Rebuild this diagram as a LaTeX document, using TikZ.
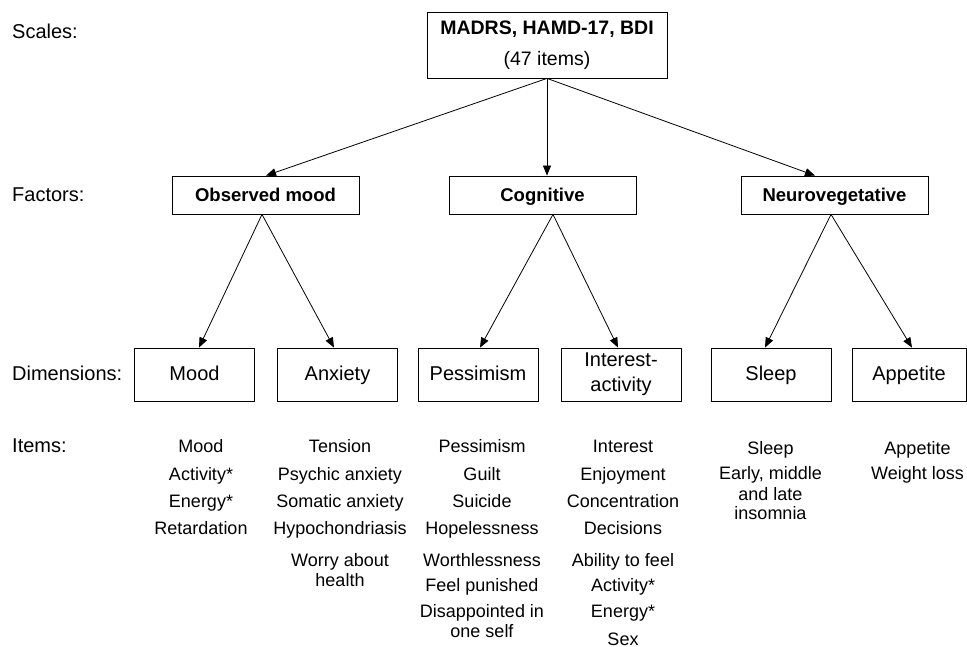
\documentclass[tikz,border=0pt]{standalone}
\usepackage{fontspec}
\setmainfont{Liberation Sans}
\usetikzlibrary{arrows.meta}
\begin{document}
\begin{tikzpicture}[x=1pt,y=-1pt,
  box/.style={draw,line width=0.8pt,inner sep=0pt,align=center},
  fbox/.style={box,minimum width=187pt,minimum height=38pt,text height=18pt,text depth=4pt,font=\fontsize{18.5}{22}\selectfont\bfseries},
  dbox/.style={box,minimum width=120pt,minimum height=53pt,font=\fontsize{20}{25}\selectfont},
  dsingle/.style={dbox,text height=16pt,text depth=4pt},
  lbl/.style={anchor=base west,inner sep=0pt,font=\fontsize{20}{24}\selectfont},
  itm/.style={anchor=base,inner sep=0pt,font=\fontsize{18}{20}\selectfont},
  arr/.style={line width=0.8pt,-{Triangle[length=10pt,width=8pt]}}
]
\useasboundingbox (0,0) rectangle (967,647);

% left labels
\node[lbl] (lscales) at (12,39) {Scales:};
\node[lbl] (lfactors) at (12,202) {Factors:};
\node[lbl] (ldims) at (12,380) {Dimensions:};
\node[lbl] (litems) at (12,452) {Items:};

% top box
\node[box,minimum width=240pt,minimum height=66pt,font=\fontsize{19.5}{31}\selectfont] (top) at (547,45)
  {\textbf{MADRS, HAMD-17, BDI}\\(47 items)};

% factors
\node[fbox] (om) at (265.5,195) {Observed mood};
\node[fbox] (cog) at (542.5,195) {Cognitive};
\node[fbox] (nv) at (834.5,195) {Neurovegetative};

% dimensions
\node[dsingle] (mood) at (194.5,374.5) {Mood};
\node[dsingle] (anx) at (337.5,374.5) {Anxiety};
\node[dsingle] (pes) at (478,374.5) {Pessimism};
\node[dbox] (int) at (621,374.5) {Interest-\\activity};
\node[dsingle] (slp) at (771,374.5) {Sleep};
\node[dsingle,minimum width=114pt] (app) at (909,374.5) {Appetite};

% arrows
\draw[arr] (top.south) -- ([xshift=0.5pt]om.north);
\draw[arr] (top.south) -- (top.south |- cog.north);
\draw[arr] (top.south) -- ([xshift=-19.5pt]nv.north);
\draw[arr] ([xshift=-3.5pt]om.south) -- ([xshift=4.5pt]mood.north);
\draw[arr] ([xshift=-3.5pt]om.south) -- ([xshift=-3.5pt]anx.north);
\draw[arr] ([xshift=10.5pt]cog.south) -- ([xshift=2pt]pes.north);
\draw[arr] ([xshift=10.5pt]cog.south) -- ([xshift=-3pt]int.north);
\draw[arr] ([xshift=-3.5pt]nv.south) -- ([xshift=-6pt]slp.north);
\draw[arr] ([xshift=-3.5pt]nv.south) -- ([xshift=3pt]app.north);

% items
\foreach \t/\y [count=\i] in {Mood/452, Activity*/480, Energy*/507, Retardation/534}
  \node[itm] (ia\i) at (201,\y) {\t};
\foreach \t/\y [count=\i] in {Tension/452, Psychic anxiety/480, Somatic anxiety/507, Hypochondriasis/534, Worry about/566, health/586}
  \node[itm] (ib\i) at (340,\y) {\t};
\foreach \t/\y [count=\i] in {Pessimism/452, Guilt/480, Suicide/507, Hopelessness/534, Worthlessness/566, Feel punished/591, Disappointed in/617, one self/637}
  \node[itm] (ic\i) at (482,\y) {\t};
\foreach \t/\y [count=\i] in {Interest/452, Enjoyment/480, Concentration/507, Decisions/534, Ability to feel/566, Activity*/591, Energy*/617, Sex/645}
  \node[itm] (id\i) at (623,\y) {\t};
\foreach \t/\y [count=\i] in {Sleep/454, {Early, middle}/479, and late/500, insomnia/519}
  \node[itm] (ie\i) at (770.5,\y) {\t};
\foreach \t/\y [count=\i] in {Appetite/454, Weight loss/479}
  \node[itm] (if\i) at (917.5,\y) {\t};
\end{tikzpicture}
\end{document}
